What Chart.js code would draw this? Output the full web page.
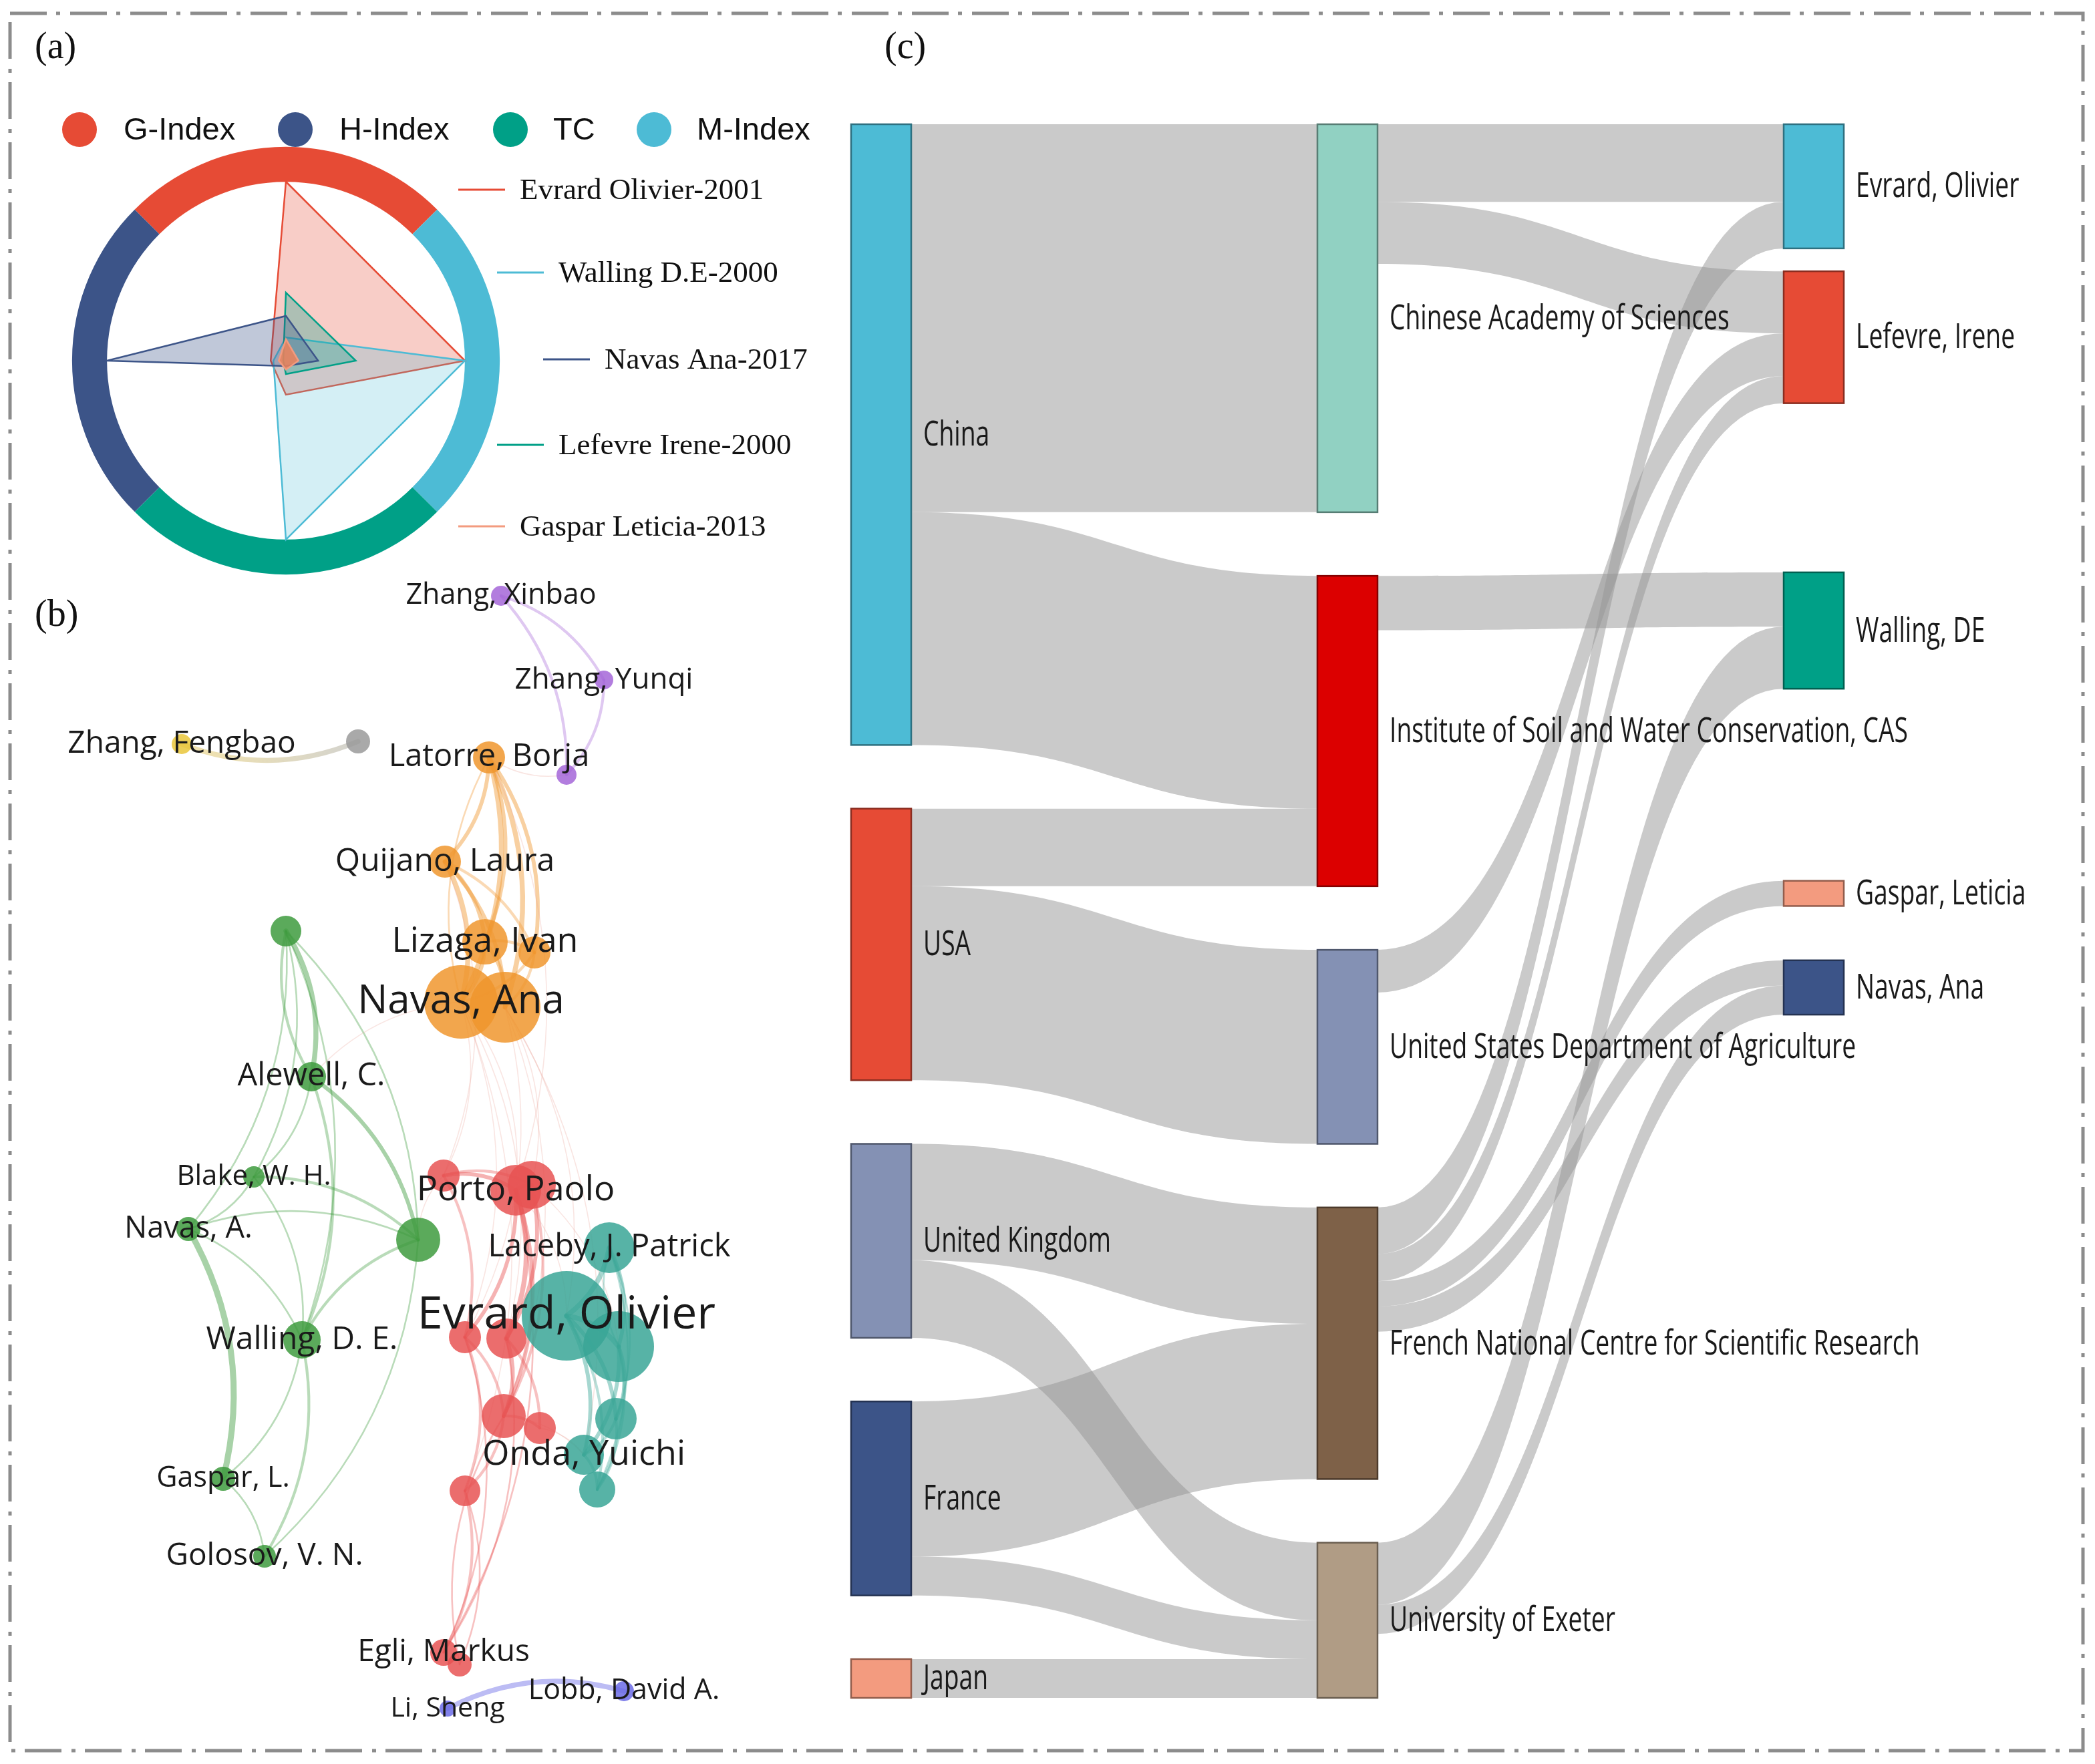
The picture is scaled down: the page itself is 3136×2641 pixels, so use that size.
<!DOCTYPE html>
<html><head><meta charset="utf-8">
<script src="https://cdn.jsdelivr.net/npm/chart.js@4.4.1/dist/chart.umd.min.js"></script>
<style>
html,body{margin:0;padding:0;background:#fff;}
body{width:3136px;height:2641px;position:relative;overflow:hidden;}
.box{position:absolute;}
.plabel{position:absolute;font-family:"Liberation Serif","Times New Roman",serif;font-size:56px;color:#111;line-height:1;}
</style></head><body>
<svg class="box" style="left:0;top:0" width="3136" height="2641"><rect x="15" y="20" width="3103" height="2601" fill="none" stroke="#8c8c8c" stroke-width="5" stroke-dasharray="55 14 6 15"/></svg>
<div class="box" style="left:0;top:0;width:1250px;height:880px"><canvas id="radar"></canvas></div>
<div class="box" style="left:0;top:860px;width:1240px;height:1760px"><canvas id="net"></canvas></div>
<div class="box" style="left:1250px;top:100px;width:1860px;height:2500px"><canvas id="sankey"></canvas></div>
<div class="plabel" style="left:52px;top:40px">(a)</div>
<div class="plabel" style="left:52px;top:890px">(b)</div>
<div class="plabel" style="left:1324px;top:40px">(c)</div>
<script>
// ================= (a) radar data =================
const radarAxes = ['G-Index','M-Index','TC','H-Index'];
const ringLegend = ['G-Index','H-Index','TC','M-Index'];
const ringColors = {'G-Index':'#E64B35','H-Index':'#3C5488','TC':'#00A087','M-Index':'#4DBBD5'};
const seriesNames = ['Evrard Olivier-2001','Walling D.E-2000','Navas Ana-2017','Lefevre Irene-2000','Gaspar Leticia-2013'];
const evrardVals  = [1.00, 1.00, 0.19, 0.085];
const wallingVals = [0.13, 1.00, 1.00, 0.07];
const navasVals   = [0.25, 0.18, 0.03, 1.00];
const lefevreVals = [0.38, 0.39, 0.075, 0.015];
const gasparVals  = [0.12, 0.07, 0.05, 0.04];

// ================= (b) network data =================
const netNames = ['Zhang, Xinbao','Zhang, Yunqi','','Zhang, Fengbao','','Latorre, Borja','Quijano, Laura','Lizaga, Ivan','',
 'Navas, Ana','','','Alewell, C.','Blake, W. H.','Navas, A.','','Walling, D. E.','Gaspar, L.','Golosov, V. N.',
 '','Porto, Paolo','','','','','','','Egli, Markus','',
 'Laceby, J. Patrick','Evrard, Olivier','','','Onda, Yuichi','','Lobb, David A.','Li, Sheng'];
const netX = [375,452,424,136,268,366,333,363,400, 345,378,214,233,190,141,313,226,167,198, 332,386,398,348,379,377,404,348,332,344, 456,424,463,461,437,447,467,335];
const netY = [446,509,580,557,555,567,645,705,713, 750,754,697,806,881,920,928,1003,1107,1165, 880,891,887,1001,1002,1060,1069,1116,1237,1246, 934,985,1008,1062,1089,1115,1266,1279];
const netSize = [15,14,15,15,18,24,24,34,24, 55,53,23,22,16,18,33,28,18,17, 24,38,36,24,30,33,24,23,20,18, 38,67,53,31,30,27,15,12];
const netCluster = ['purple','purple','purple','yellow','gray','orange','orange','orange','orange',
 'orange','orange','green','green','green','green','green','green','green','green',
 'red','red','red','red','red','red','red','red','red','red',
 'teal','teal','teal','teal','teal','teal','blue','blue'];
const netLabelSize = [43,44,0,46,0,47,48,52,0, 60,0,0,47,42,45,0,48,43,46, 0,52,0,0,0,0,0,0,46,0, 47,68,0,0,52,0,43,41];
const clusterColors = {purple:'#A566D8',yellow:'#E9C53A',gray:'#9A9A9A',orange:'#F0962E',green:'#3E9B3E',red:'#E85454',teal:'#3AA696',blue:'#6B6BE6'};
const netEdges = [
 [0,1,2],[0,2,2],[1,2,2],[2,5,1],[4,3,4],
 [5,6,3],[5,7,3],[5,9,4],[5,10,4],[5,8,3],[6,7,3],[6,9,4],[6,10,3],[7,9,3],[7,10,3],[8,9,2],[8,10,2],[6,8,2],[7,8,2],[9,5,1],
 [9,19,1],[9,20,1],[10,21,1],[9,23,1],[10,22,1],[10,30,1],[5,20,1],[6,19,1],[9,26,1],[10,24,1],[9,22,1],[10,33,1],
 [11,12,4],[12,11,2],[11,15,1],[11,16,1],[11,13,1],[12,15,3],[12,16,2],[12,13,1],[13,15,2],[13,16,1],[13,14,1],[14,16,1],[14,17,5],[14,15,1],
 [16,15,2],[16,17,1],[16,18,2],[17,18,1],[15,18,1],[11,14,1],[15,19,1],[12,9,1],
 [19,20,3],[19,21,2],[20,21,3],[20,22,3],[20,23,4],[21,23,3],[20,24,3],[21,24,2],[22,24,2],[23,24,3],[23,25,2],[24,25,2],[22,26,2],[24,26,2],
 [26,27,2],[26,28,1],[22,27,1],[23,27,1],[20,30,2],[21,31,1],[19,22,2],[24,33,1],[25,33,1],[20,27,1],[28,24,1],
 [29,30,4],[29,31,3],[30,31,4],[30,32,3],[31,32,3],[30,33,3],[31,33,3],[30,34,2],[31,34,2],[32,33,2],[32,34,2],[29,32,1],[29,34,1],[33,34,2],[31,29,1],
 [36,35,4]
];

// ================= (c) sankey data =================
const countries = ['China','USA','United Kingdom','France','Japan'];
const institutions = ['Chinese Academy of Sciences','Institute of Soil and Water Conservation, CAS','United States Department of Agriculture','French National Centre for Scientific Research','University of Exeter'];
const authors = ['Evrard, Olivier','Lefevre, Irene','Walling, DE','Gaspar, Leticia','Navas, Ana'];
const countryColors = ['#4DBBD5','#E64B35','#8491B4','#3C5488','#F39B7F'];
const institutionColors = ['#91D1C2','#DC0000','#8491B4','#7E6148','#B09C85'];
const authorColors = ['#4DBBD5','#E64B35','#00A087','#F39B7F','#3C5488'];
const countryToInstitution = [[0,0,10],[0,1,6],[1,1,2],[1,2,5],[2,3,3],[2,4,2],[3,3,4],[3,4,1],[4,4,1]];
const institutionToAuthor = [[0,0,2.0],[0,1,1.6],[1,2,1.4],[2,1,1.1],[3,0,1.2],[3,1,0.7],[3,3,0.65],[3,4,0.65],[4,2,1.6],[4,4,0.75]];
const authorTops = [0, 3.79, 11.55, 19.5, 21.55];

// ================= helpers =================
function hexA(h,a){const n=parseInt(h.slice(1),16);return `rgba(${n>>16},${(n>>8)&255},${n&255},${a})`;}
function shade(h,f){const n=parseInt(h.slice(1),16);const r=Math.round((n>>16)*f),g=Math.round(((n>>8)&255)*f),b=Math.round((n&255)*f);return `rgb(${r},${g},${b})`;}
Chart.defaults.font.family = '"Open Sans", "Noto Sans", sans-serif';

// ================= (a) radar chart =================
const seriesVals = [evrardVals,wallingVals,navasVals,lefevreVals,gasparVals];
const seriesLine = ['#E64B35','#4DBBD5','#3C5488','#00A087','#F39B7F'];
const seriesFill = ['rgba(230,75,53,0.28)','rgba(77,187,213,0.24)','rgba(60,84,136,0.32)','rgba(0,160,135,0.30)','rgba(240,130,90,0.85)'];
const seriesOrder = [4,3,1,2,0];
const radarDecor = {
  id:'radarDecor',
  beforeDatasetsDraw(chart){
    const s=chart.scales.r, ctx=chart.ctx;
    const R=s.drawingArea*1.097;
    ctx.save(); ctx.lineWidth=s.drawingArea*0.195; ctx.lineCap='butt';
    radarAxes.forEach((lab,i)=>{
      const a=s.getIndexAngle(i)-Math.PI/2;
      ctx.strokeStyle=ringColors[lab];
      ctx.beginPath(); ctx.arc(s.xCenter,s.yCenter,R,a-Math.PI/4,a+Math.PI/4); ctx.stroke();
    });
    ctx.restore();
  },
  afterDraw(chart){
    const ctx=chart.ctx; ctx.save();
    const cx=[119,442,764,979], tx=[185,508,828,1043];
    ctx.font='47px "Liberation Sans", Arial, sans-serif'; ctx.textBaseline='middle'; ctx.fillStyle='#111';
    ringLegend.forEach((lab,i)=>{
      ctx.fillStyle=ringColors[lab]; ctx.beginPath(); ctx.arc(cx[i],194,26,0,Math.PI*2); ctx.fill();
      ctx.fillStyle='#111'; ctx.fillText(lab,tx[i],196);
    });
    const lx=[686,744,813,744,686], ly=[284,408,538,666,788];
    ctx.font='45px "Liberation Serif", "Times New Roman", serif';
    seriesNames.forEach((n,i)=>{
      ctx.strokeStyle=seriesLine[i]; ctx.lineWidth=3;
      ctx.beginPath(); ctx.moveTo(lx[i],ly[i]); ctx.lineTo(lx[i]+70,ly[i]); ctx.stroke();
      ctx.fillStyle='#111'; ctx.fillText(n,lx[i]+92,ly[i]+2);
    });
    ctx.restore();
  }
};
new Chart(document.getElementById('radar'),{
  type:'radar',
  data:{labels:radarAxes,datasets:seriesNames.map((n,i)=>({label:n,data:seriesVals[i],borderColor:seriesLine[i],backgroundColor:seriesFill[i],borderWidth:2.5,fill:true,pointRadius:0,order:seriesOrder[i]}))},
  options:{responsive:true,maintainAspectRatio:false,animation:false,
    layout:{padding:{left:160,right:554,top:272,bottom:72}},
    elements:{line:{tension:0}},
    scales:{r:{min:0,max:1,ticks:{display:false},grid:{display:false},angleLines:{display:false},pointLabels:{display:false}}},
    plugins:{legend:{display:false},tooltip:{enabled:false}}},
  plugins:[radarDecor]
});

// ================= (b) network chart =================
const netPlugin = {
  id:'netEdges',
  beforeDatasetsDraw(chart){
    const {ctx,scales:{x,y}}=chart; ctx.save(); ctx.lineCap='round';
    netEdges.forEach(([a,b,w])=>{
      const x0=x.getPixelForValue(netX[a]), y0=y.getPixelForValue(netY[a]);
      const x1=x.getPixelForValue(netX[b]), y1=y.getPixelForValue(netY[b]);
      const dx=x1-x0, dy=y1-y0;
      const cx=(x0+x1)/2+dy*0.2, cy=(y0+y1)/2-dx*0.2;
      const same=netCluster[a]===netCluster[b];
      let col, lw;
      if(netCluster[a]==='gray'||netCluster[b]==='gray'){
        const g=ctx.createLinearGradient(x0,y0,x1,y1);
        g.addColorStop(0,'rgba(200,200,195,0.8)'); g.addColorStop(1,'rgba(240,220,150,0.8)');
        col=g; lw=1.0+w*1.6;
      } else if(same){ col=hexA(clusterColors[netCluster[a]], w>=3?0.45:0.36); lw=1.0+w*1.6; }
      else { col='rgba(235,160,150,0.28)'; lw=1.6; }
      ctx.strokeStyle=col; ctx.lineWidth=lw;
      ctx.beginPath(); ctx.moveTo(x0,y0); ctx.quadraticCurveTo(cx,cy,x1,y1); ctx.stroke();
    });
    ctx.restore();
  },
  afterDatasetsDraw(chart){
    const {ctx,scales:{x,y}}=chart; ctx.save();
    ctx.textAlign='center'; ctx.textBaseline='middle'; ctx.fillStyle='#1a1a1a';
    netNames.forEach((n,i)=>{
      if(!n||!netLabelSize[i]) return;
      ctx.font=`${netLabelSize[i]}px "Open Sans", "Noto Sans", sans-serif`;
      ctx.fillText(n,x.getPixelForValue(netX[i]),y.getPixelForValue(netY[i]));
    });
    ctx.restore();
  }
};
new Chart(document.getElementById('net'),{
  type:'bubble',
  data:{datasets:[{data:netX.map((v,i)=>({x:v,y:netY[i],r:netSize[i]})),
    backgroundColor:netCluster.map(c=>hexA(clusterColors[c],0.85)),borderWidth:0,hoverBorderWidth:0,clip:false}]},
  options:{responsive:true,maintainAspectRatio:false,animation:false,
    layout:{padding:0,autoPadding:false},
    scales:{x:{type:'linear',min:0,max:620,display:false},y:{type:'linear',min:430,max:1310,reverse:true,display:false}},
    plugins:{legend:{display:false},tooltip:{enabled:false}}},
  plugins:[netPlugin]
});

// ================= (c) sankey chart =================
const NODE_W = 90/698;
const PAD = 1.64;
function buildSankey(){
  const cols=[countries,institutions,authors], colors=[countryColors,institutionColors,authorColors];
  const nodes=cols.map((names,c)=>names.map((n,i)=>({name:n,col:c,color:colors[c][i],inV:0,outV:0,outs:[],ins:[]})));
  const links=[];
  countryToInstitution.forEach(([s,t,v])=>links.push({s:nodes[0][s],t:nodes[1][t],v}));
  institutionToAuthor.forEach(([s,t,v])=>links.push({s:nodes[1][s],t:nodes[2][t],v}));
  links.forEach(l=>{l.s.outV+=l.v;l.t.inV+=l.v;l.s.outs.push(l);l.t.ins.push(l);});
  nodes.forEach((col,c)=>{let y=0;col.forEach((n,i)=>{n.v=Math.max(n.inV,n.outV);
    n.top = c<2 ? y : authorTops[i]; y+=n.v+PAD;});});
  nodes.flat().forEach(n=>{
    n.outs.sort((a,b)=>a.t.top-b.t.top); let o=n.top; n.outs.forEach(l=>{l.sy=o;o+=l.v;});
    n.ins.sort((a,b)=>a.s.top-b.s.top); let q=n.top; n.ins.forEach(l=>{l.ty=q;q+=l.v;});
  });
  return {nodes:nodes.flat(),links};
}
const sk = buildSankey();
const totalUnits = countryToInstitution.reduce((a,l)=>a+l[2],0)+PAD*(countries.length-1);
const sankeyPlugin = {
  id:'sankeyDraw',
  afterDatasetsDraw(chart){
    const {ctx,scales:{x,y}}=chart; ctx.save();
    sk.links.forEach(l=>{
      const x0=x.getPixelForValue(l.s.col+NODE_W), x1=x.getPixelForValue(l.t.col), xm=(x0+x1)/2;
      const a0=y.getPixelForValue(l.sy), a1=y.getPixelForValue(l.sy+l.v);
      const b0=y.getPixelForValue(l.ty), b1=y.getPixelForValue(l.ty+l.v);
      ctx.fillStyle='rgba(150,150,150,0.5)';
      ctx.beginPath(); ctx.moveTo(x0,a0); ctx.bezierCurveTo(xm,a0,xm,b0,x1,b0); ctx.lineTo(x1,b1);
      ctx.bezierCurveTo(xm,b1,xm,a1,x0,a1); ctx.closePath(); ctx.fill();
    });
    ctx.font='51px "Open Sans", "Noto Sans", sans-serif'; ctx.textBaseline='middle'; ctx.textAlign='left';
    sk.nodes.forEach(n=>{
      const xl=x.getPixelForValue(n.col), xr=x.getPixelForValue(n.col+NODE_W);
      const yt=y.getPixelForValue(n.top), yb=y.getPixelForValue(n.top+n.v);
      ctx.fillStyle=n.color; ctx.fillRect(xl,yt,xr-xl,yb-yt);
      ctx.strokeStyle=shade(n.color,0.6); ctx.lineWidth=2.5; ctx.strokeRect(xl,yt,xr-xl,yb-yt);
      ctx.save(); ctx.translate(xr+18,(yt+yb)/2+2); ctx.scale(0.73,1); ctx.fillStyle='#1a1a1a'; ctx.fillText(n.name,0,0); ctx.restore();
    });
    ctx.restore();
  }
};
new Chart(document.getElementById('sankey'),{
  type:'scatter',
  data:{datasets:[{data:sk.nodes.map(n=>({x:n.col,y:n.top})),pointRadius:0,showLine:false}]},
  options:{responsive:true,maintainAspectRatio:false,animation:false,
    layout:{padding:{left:24,right:350,top:86,bottom:58},autoPadding:false},
    scales:{x:{type:'linear',min:0,max:2+NODE_W,display:false},y:{type:'linear',min:0,max:totalUnits,reverse:true,display:false}},
    plugins:{legend:{display:false},tooltip:{enabled:false}}},
  plugins:[sankeyPlugin]
});
</script>
</body></html>
